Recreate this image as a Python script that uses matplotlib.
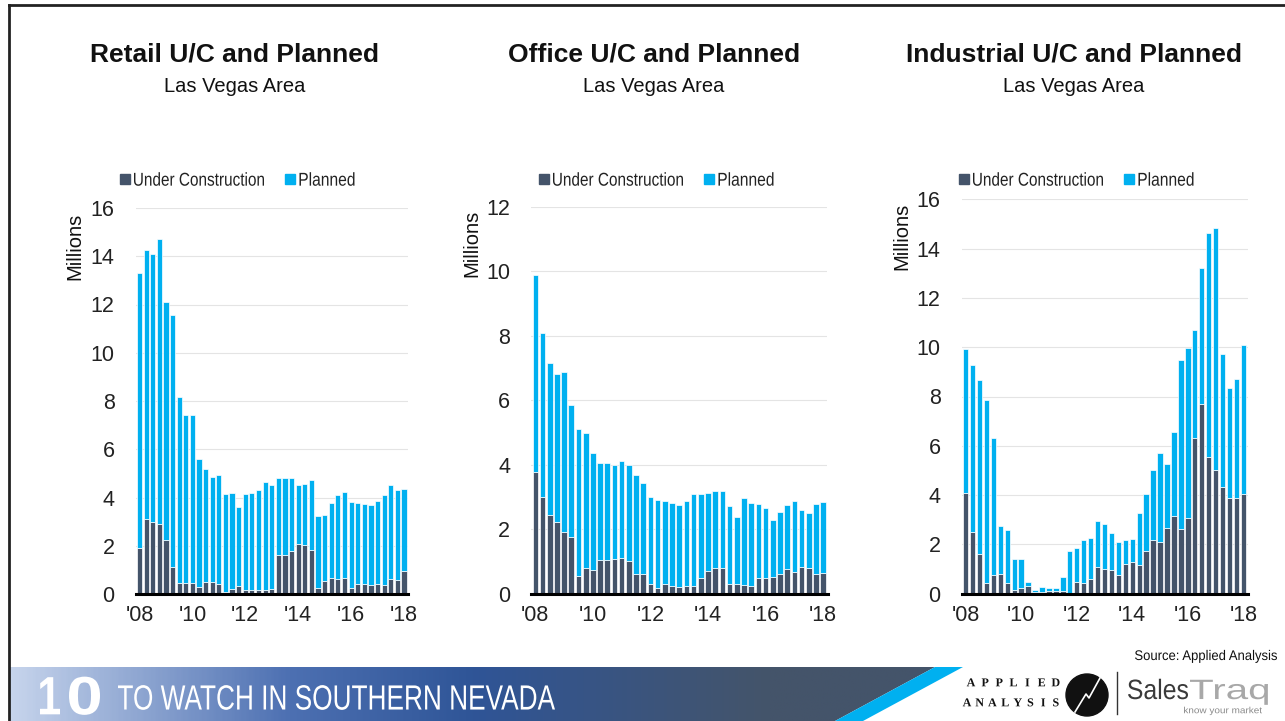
import numpy as np
import matplotlib
matplotlib.use("Agg")
import matplotlib.pyplot as plt
from matplotlib.colors import LinearSegmentedColormap
from matplotlib.patches import Polygon, Circle, Rectangle, PathPatch
from matplotlib.lines import Line2D
from matplotlib.textpath import TextPath
from matplotlib.font_manager import FontProperties
from matplotlib.transforms import Affine2D

plt.rcParams["font.family"] = ["Liberation Sans", "DejaVu Sans"]

# Data (millions of sq ft), quarterly 2008 Q1 - 2018 Q1
tick_labels = ["'08", "'10", "'12", "'14", "'16", "'18"]

retail_uc = [1.90, 3.10, 3.00, 2.90, 2.25, 1.10, 0.45, 0.45, 0.45, 0.30, 0.48,
             0.48, 0.40, 0.10, 0.22, 0.35, 0.17, 0.17, 0.18, 0.18, 0.22, 1.60,
             1.62, 1.80, 2.06, 2.03, 1.82, 0.26, 0.55, 0.68, 0.64, 0.68, 0.26,
             0.41, 0.43, 0.39, 0.43, 0.36, 0.61, 0.57, 0.97]
retail_planned = [11.40, 11.15, 11.10, 11.80, 9.85, 10.45, 7.70, 6.95, 6.95, 5.30,
                  4.72, 4.37, 4.55, 4.05, 3.95, 3.27, 3.96, 4.00, 4.12, 4.47, 4.30,
                  3.22, 3.20, 3.00, 2.44, 2.54, 2.90, 2.97, 2.71, 3.08, 3.46, 3.56,
                  3.54, 3.37, 3.30, 3.28, 3.42, 3.74, 3.92, 3.75, 3.38]

office_uc = [3.78, 3.01, 2.46, 2.22, 1.93, 1.77, 0.57, 0.82, 0.75, 1.06, 1.06,
             1.07, 1.12, 1.03, 0.63, 0.63, 0.32, 0.20, 0.32, 0.26, 0.22, 0.26,
             0.26, 0.51, 0.70, 0.80, 0.82, 0.32, 0.32, 0.28, 0.25, 0.49, 0.51,
             0.54, 0.63, 0.76, 0.69, 0.84, 0.82, 0.63, 0.66]
office_planned = [6.09, 5.09, 4.69, 4.59, 4.95, 4.09, 4.54, 4.17, 3.62, 3.01, 2.99,
                  2.93, 3.00, 2.97, 3.05, 2.81, 2.69, 2.71, 2.56, 2.55, 2.55, 2.61,
                  2.83, 2.58, 2.44, 2.38, 2.37, 2.40, 2.08, 2.68, 2.57, 2.29, 2.16,
                  1.75, 1.92, 1.99, 2.18, 1.75, 1.69, 2.16, 2.19]

industrial_uc = [4.10, 2.50, 1.60, 0.45, 0.77, 0.80, 0.43, 0.16, 0.24, 0.32, 0.08,
                 0.05, 0.11, 0.11, 0.11, 0.03, 0.47, 0.42, 0.58, 1.08, 0.99, 0.95,
                 0.77, 1.22, 1.30, 1.16, 1.75, 2.18, 2.11, 2.68, 3.17, 2.64, 3.06,
                 6.31, 7.69, 5.56, 5.02, 4.33, 3.90, 3.90, 4.03]
industrial_planned = [5.83, 6.76, 7.06, 7.41, 5.55, 1.93, 2.14, 1.25, 1.17, 0.14, 0.06,
                      0.21, 0.12, 0.12, 0.58, 1.72, 1.38, 1.76, 1.67, 1.86, 1.84, 1.50,
                      1.33, 0.96, 0.93, 2.13, 2.30, 2.84, 3.61, 2.58, 3.39, 6.86, 6.90,
                      4.39, 5.53, 9.09, 9.81, 5.41, 4.45, 4.80, 6.05]

UC_COLOR = "#44546A"
PL_COLOR = "#00B0F0"

W, H = 1285, 721
fig = plt.figure(figsize=(W / 100, H / 100), dpi=100)
fig.patch.set_facecolor("white")


def fx(px):
    return px / W


def fy(py):
    return 1 - py / H


# background layer in pixel coordinates (y downwards)
bg = fig.add_axes([0, 0, 1, 1], zorder=0)
bg.set_xlim(0, W)
bg.set_ylim(H, 0)
bg.axis("off")


def ctext(x, y, s, size, width=None, weight="normal", ha="left",
          color="#111111", family="Liberation Sans"):
    # condensed text drawn as a path, size and width in pixels
    fp = FontProperties(family=family, weight=weight)
    tp = TextPath((0, 0), s, size=size, prop=fp)
    ext = tp.get_extents()
    sx = 1.0 if width is None else width / ext.width
    if ha == "left":
        dx = -ext.x0
    elif ha == "center":
        dx = -(ext.x0 + ext.x1) / 2
    else:
        dx = -ext.x1
    tr = Affine2D().translate(dx, -0.716 * size / 2).scale(sx, -1).translate(x, y)
    bg.add_patch(PathPatch(tr.transform_path(tp), facecolor=color,
                           edgecolor="none", lw=0))


# banner gradient
cmap = LinearSegmentedColormap.from_list(
    "banner", [(0, "#C6D4EC"), (0.3, "#4D70B2"), (0.5, "#2F5597"),
               (0.82, "#44546A"), (1, "#44546A")])
grad = np.linspace(0, 1, 400).reshape(1, -1)
im = bg.imshow(grad, cmap=cmap, extent=(10, 935, 721, 667), aspect="auto")
clip = Polygon([(10, 667), (935, 667), (835, 721), (10, 721)], closed=True,
               transform=bg.transData, facecolor="none", edgecolor="none")
bg.add_patch(clip)
im.set_clip_path(clip)
bg.add_patch(Polygon([(935, 667), (963, 667), (863, 721), (835, 721)],
                     closed=True, facecolor=PL_COLOR, edgecolor="none"))

# frame lines
bg.add_line(Line2D([9, W], [5, 5], color="#222222", lw=2))
bg.add_line(Line2D([9, 9], [5, H], color="#222222", lw=2))

ctext(40, 695, "1", 54, width=20, weight="bold", color="white")
ctext(69, 695, "0", 54, width=31, weight="bold", color="white")
ctext(118, 697, "TO WATCH IN SOUTHERN NEVADA", 35, width=437, color="white")

# logos
for i, ch in enumerate("APPLIED"):
    ctext(971 + i * 14.1, 682, ch, 12, weight="bold", ha="center",
          family="Liberation Serif")
for i, ch in enumerate("ANALYSIS"):
    ctext(967 + i * 12.7, 702, ch, 12, weight="bold", ha="center",
          family="Liberation Serif")
bg.add_patch(Circle((1087, 695), 21, color="#111111"))
bg.add_line(Line2D([1075, 1086, 1089, 1100], [712, 694, 698, 678],
                   color="white", lw=1.2))
bg.add_line(Line2D([1117, 1117], [672, 714], color="#333333", lw=1))
ctext(1128, 689, "Sales", 28, width=60, color="#3A3A3A")
ctext(1190, 689, "Traq", 28, width=78, color="#A8A8A8")
ctext(1223, 710, "know your market", 9, width=78, ha="center", color="#8A8A8A")
ctext(1277, 655, "Source: Applied Analysis", 14, width=142, ha="right")

charts = [
    ("Retail U/C and Planned", retail_uc, retail_planned, 16,
     (135.5, 408, 594, 208), 235, 75, 213, 0),
    ("Office U/C and Planned", office_uc, office_planned, 12,
     (531, 827.5, 594, 206.7), 654, 472, 210, 419),
    ("Industrial U/C and Planned", industrial_uc, industrial_planned, 16,
     (961.5, 1247.5, 593.7, 199.3), 1074, 902, 203, 839),
]

x = np.arange(len(retail_uc))
for title, uc, planned, ymax, (l, r, b, t), cx, ylx, yly, lo in charts:
    ax = fig.add_axes([fx(l), fy(b), fx(r - l), (b - t) / H], zorder=1)
    ax.patch.set_alpha(0)
    ax.bar(x, uc, width=0.78, color=UC_COLOR, edgecolor="white", linewidth=0.5,
           zorder=2)
    ax.bar(x, planned, bottom=uc, width=0.78, color=PL_COLOR, edgecolor="white",
           linewidth=0.5, zorder=2)
    ax.set_xlim(-0.6, len(uc) - 0.4)
    ax.set_ylim(0, ymax)
    ax.set_yticks(np.arange(0, ymax + 1, 2))
    ax.set_xticks(np.arange(0, len(uc), 8))
    ax.set_xticklabels(tick_labels)
    ax.tick_params(axis="both", length=0, labelsize=15.5, colors="#222222")
    ax.tick_params(axis="y", pad=15)
    ax.tick_params(axis="x", pad=8)
    ax.grid(axis="y", color="#E4E4E4", lw=0.8, zorder=0)
    for s in ("left", "right", "top"):
        ax.spines[s].set_visible(False)
    ax.spines["bottom"].set_color("black")
    ax.spines["bottom"].set_linewidth(2.2)
    ax.spines["bottom"].set_zorder(3)

    fig.text(fx(cx), fy(54), title, fontsize=19, fontweight="bold",
             ha="center", va="center", color="#111111")
    fig.text(fx(cx), fy(87), "Las Vegas Area", fontsize=14.5,
             ha="center", va="center", color="#111111")
    fig.text(fx(ylx), fy(yly), "Millions", rotation=90, fontsize=14.5,
             ha="center", va="top", color="#111111")

    # legend
    bg.add_patch(Rectangle((120 + lo, 173.5), 9.5, 10, color=UC_COLOR))
    ctext(134 + lo, 179, "Under Construction", 18.6, width=130, color="#222222")
    bg.add_patch(Rectangle((285 + lo, 173.5), 9.5, 10, color=PL_COLOR))
    ctext(299.5 + lo, 179, "Planned", 18.6, width=55, color="#222222")

fig.savefig("out.png", dpi=100)
